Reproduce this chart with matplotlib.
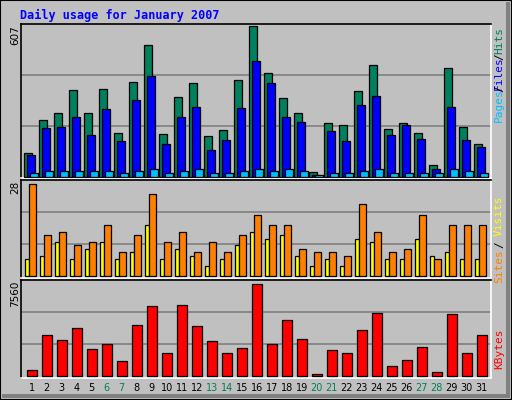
import matplotlib
matplotlib.use("Agg")
import matplotlib.pyplot as plt
from matplotlib.patches import Rectangle
import numpy as np

days = list(range(1, 32))
hits = [94,225,253,344,253,348,173,376,523,169,316,372,161,185,384,600,412,312,253,18,213,205,340,443,189,213,173,46,431,197,130]
files = [86,193,197,237,165,269,142,304,400,130,237,277,106,146,273,459,372,237,217,8,181,142,284,320,165,205,150,30,277,146,118]
pages = [15,23,23,23,23,23,15,23,30,15,23,30,15,15,23,30,23,30,23,8,15,15,23,30,15,15,15,15,30,23,15]
sites = [5,6,10,5,8,10,5,7,15,5,8,6,3,5,9,13,11,12,6,3,5,3,11,10,5,5,11,6,7,5,5]
visits = [27,12,13,9,10,15,7,12,24,10,13,7,10,7,12,18,15,15,8,7,7,6,21,13,7,8,18,5,15,15,15]
kbytes = [478,3240,2840,3800,2125,2525,1170,4035,5550,1805,5630,3955,2760,1805,2205,7320,2525,4435,2920,100,2045,1805,3640,4990,770,1250,2285,295,4910,1805,3240]
weekends = [6,7,13,14,20,21,27,28]
max_hits, max_visits, max_kbytes = 607, 28, 7560

W, H = 512, 400
fig = plt.figure(figsize=(W/100, H/100), dpi=100)
fig.patch.set_facecolor('#c0c0c0')

def px(x0, y0, x1, y1):
    return [x0/W, 1-y1/H, (x1-x0)/W, (y1-y0)/H]

# outer frame
fig.add_artist(Rectangle((0, 0), 1, 1, transform=fig.transFigure, fill=False, ec='black', lw=1.5))
fig.add_artist(Rectangle((506/W, 2/H), 4/W, 396/H, transform=fig.transFigure, fc='#808080', ec='none'))
fig.add_artist(Rectangle((2/W, 2/H), 508/W, 4/H, transform=fig.transFigure, fc='#808080', ec='none'))

x = np.array(days, dtype=float)
XL = (0.333, 31.667)

def style(ax, ylim, grids):
    ax.set_facecolor('#c0c0c0')
    ax.set_xlim(*XL); ax.set_ylim(*ylim)
    ax.set_xticks([]); ax.set_yticks([])
    for g in grids:
        ax.axhline(g, color='#808080', lw=1.2, zorder=0)
    for s in ['left', 'top']:
        ax.spines[s].set_color('black'); ax.spines[s].set_linewidth(1.2)
    for s in ['right', 'bottom']:
        ax.spines[s].set_color('white'); ax.spines[s].set_linewidth(1.2)

ax1 = fig.add_axes(px(21, 24, 491, 178))
style(ax1, (-5, max_hits), [max_hits/3, max_hits*2/3])
kw = dict(edgecolor='black', linewidth=0.9, zorder=3)
ax1.bar(x-0.22, hits, width=0.51, color='#00805c', **kw)
ax1.bar(x-0.03, files, width=0.53, color='#0000ff', **kw)
ax1.bar(x+0.19, pages, width=0.51, color='#00c0ff', **kw)

ax2 = fig.add_axes(px(21, 180, 491, 278))
style(ax2, (-0.6, 28.2), [max_visits/3, max_visits*2/3])
ax2.bar(x-0.27, sites, width=0.27, color='#ffff00', **kw)
ax2.bar(x+0.11, visits, width=0.49, color='#ff8000', **kw)

ax3 = fig.add_axes(px(21, 280, 491, 378))
style(ax3, (-183, 7618), [max_kbytes/3, max_kbytes*2/3])
ax3.bar(x+0.05, kbytes, width=0.67, color='#ff0000', **kw)

# x labels
for d in days:
    xf = (21 + (d - XL[0]) / (XL[1]-XL[0]) * 470 + 0.7) / W
    fig.text(xf, 1-388/H, str(d), ha='center', va='center', fontsize=7,
             color='#00805c' if d in weekends else 'black')

fig.text(20/W, 1-15/H, 'Daily usage for January 2007', ha='left', va='center',
         fontsize=8.5, fontweight='bold', family='DejaVu Sans Mono', color='#0000ff')

for lab, y in [(str(max_hits), 25), (str(max_visits), 181), (str(max_kbytes), 281)]:
    fig.text(15/W, 1-y/H, lab, rotation=90, ha='center', va='top', fontsize=7.5, color='black')

right = [('Hits', 41, '#00805c'), ('/', 57, 'black'), ('Files', 73, '#0000ff'), ('/', 89, 'black'),
         ('Pages', 105, '#00c0ff'), ('Visits', 216, '#ffff00'), ('/', 245, 'black'),
         ('Sites', 266, '#ff8000'), ('KBytes', 349, '#ff0000')]
for lab, y, c in right:
    fig.text(499/W, 1-y/H, lab, rotation=90, ha='center', va='center', fontsize=8,
             family='DejaVu Sans Mono', color=c)

fig.savefig('out.png', dpi=100, facecolor=fig.get_facecolor())
